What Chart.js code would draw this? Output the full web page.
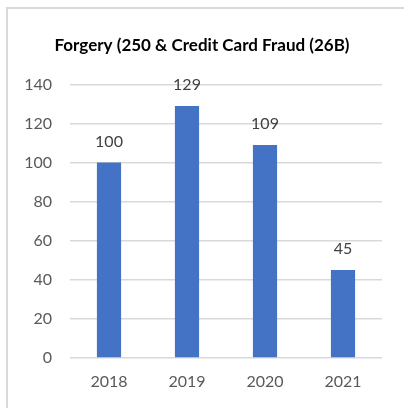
<!DOCTYPE html>
<html lang="en">
<head>
    <meta charset="UTF-8">
    <title>Forgery & Credit Card Fraud</title>
    <script src="https://cdn.jsdelivr.net/npm/chart.js"></script>
    <style>
        html, body { margin: 0; padding: 0; background: #fff; overflow: hidden; }
        #wrap { position: relative; width: 404px; height: 408px; }
        #frame {
            position: absolute; left: 6px; top: 7px; width: 420px; height: 420px;
            border: 2px solid #d9d9d9; pointer-events: none;
        }
    </style>
</head>
<body>
    <div id="wrap">
        <canvas id="fraudChart" width="404" height="408"></canvas>
        <div id="frame"></div>
    </div>

<script>
    // data
    const years = ['2018', '2019', '2020', '2021'];
    const cases = [100, 129, 109, 45];
    const yTicks = [0, 20, 40, 60, 80, 100, 120, 140];

    const fontFamily = 'Lato, "Open Sans", sans-serif';

    // value labels above each bar
    const barLabels = {
        id: 'barLabels',
        afterDatasetsDraw(chart) {
            const ctx = chart.ctx;
            const meta = chart.getDatasetMeta(0);
            ctx.save();
            ctx.fillStyle = '#404040';
            ctx.font = '16px ' + fontFamily;
            ctx.textAlign = 'center';
            ctx.textBaseline = 'alphabetic';
            meta.data.forEach((bar, i) => {
                ctx.fillText(cases[i], bar.x, bar.y - 16);
            });
            ctx.restore();
        }
    };

    const ctx = document.getElementById('fraudChart').getContext('2d');
    new Chart(ctx, {
        type: 'bar',
        data: {
            labels: years,
            datasets: [{
                data: cases,
                backgroundColor: '#4472C4',
                barPercentage: 0.31,
                categoryPercentage: 1.0
            }]
        },
        options: {
            responsive: false,
            animation: false,
            layout: { padding: { top: 35, right: 22, bottom: 17, left: 22 } },
            plugins: {
                legend: { display: false },
                tooltip: { enabled: false },
                title: {
                    display: true,
                    text: 'Forgery (250 & Credit Card Fraud (26B)',
                    color: '#000',
                    font: { family: fontFamily, size: 17, weight: 'bold' },
                    padding: { top: 0, bottom: 29 }
                }
            },
            scales: {
                x: {
                    afterFit(axis) { axis.height = 33; },
                    grid: { display: false, drawTicks: false },
                    border: { display: false },
                    ticks: {
                        color: '#595959',
                        font: { family: fontFamily, size: 16 },
                        padding: 14
                    }
                },
                y: {
                    min: 0,
                    max: 140,
                    afterBuildTicks(axis) {
                        axis.ticks = yTicks.map(v => ({ value: v }));
                    },
                    afterFit(axis) { axis.width = 48; },
                    grid: { color: '#d9d9d9', lineWidth: 1.5, drawTicks: false },
                    border: { display: false },
                    ticks: {
                        color: '#595959',
                        font: { family: fontFamily, size: 16 },
                        padding: 18
                    }
                }
            }
        },
        plugins: [barLabels]
    });
</script>
</body>
</html>
